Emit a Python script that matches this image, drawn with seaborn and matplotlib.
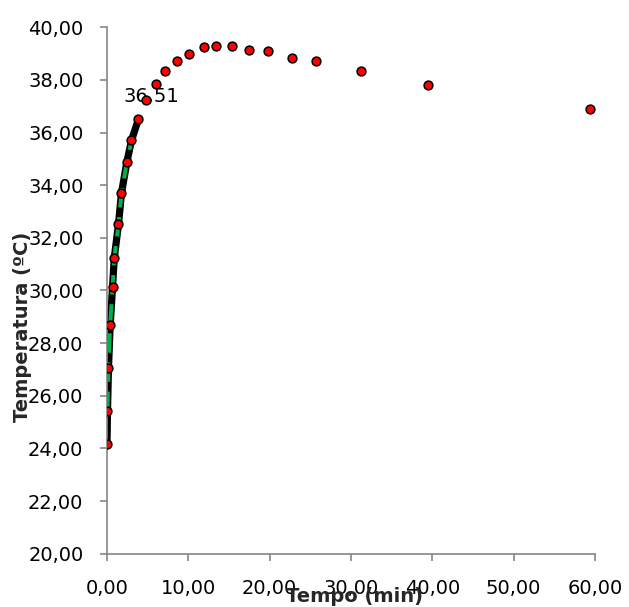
import matplotlib
matplotlib.use("Agg")
import matplotlib.pyplot as plt
from matplotlib.ticker import FuncFormatter
import seaborn as sns
import pandas as pd

# Medições de temperatura ao longo do tempo
tempo = [0.00, 0.06, 0.18, 0.39, 0.68, 0.89, 1.41, 1.78, 2.45, 3.01, 3.87,
         4.82, 6.05, 7.19, 8.55, 10.14, 11.95, 13.43, 15.43, 17.45, 19.78,
         22.73, 25.69, 31.26, 39.41, 59.33]
temperatura = [24.16, 25.42, 27.06, 28.68, 30.12, 31.23, 32.51, 33.70, 34.89,
               35.70, 36.51, 37.22, 37.85, 38.33, 38.71, 38.98, 39.24, 39.29,
               39.29, 39.15, 39.09, 38.85, 38.71, 38.33, 37.79, 36.89]

# Trecho de aquecimento (curva preta) e trecho ajustado (tracejado verde)
n_aquecimento = 11
ajuste_inicio, ajuste_fim = 1, 10

x_ticks = [0, 10, 20, 30, 40, 50, 60]
y_ticks = [20, 22, 24, 26, 28, 30, 32, 34, 36, 38, 40]

df = pd.DataFrame({"tempo": tempo, "temperatura": temperatura})
aquec = df.iloc[:n_aquecimento]
ajuste = df.iloc[ajuste_inicio:ajuste_fim]

sns.set_style("white")
plt.rcParams["font.family"] = ["DejaVu Sans"]
fs = 14

fig = plt.figure(figsize=(6.29, 6.07), dpi=100)
ax = fig.add_axes([107 / 629, 1 - 553.7 / 607, (595 - 107) / 629, (553.7 - 27.3) / 607])

sns.lineplot(data=aquec, x="tempo", y="temperatura", sort=False, estimator=None,
             color="black", linewidth=5.2, solid_capstyle="round",
             solid_joinstyle="round", ax=ax, zorder=2)
sns.lineplot(data=ajuste, x="tempo", y="temperatura", sort=False, estimator=None,
             color="#00B050", linewidth=2.8, dashes=False, ax=ax, zorder=3)
ax.lines[-1].set_linestyle((0, (5, 2.5)))
sns.scatterplot(data=df, x="tempo", y="temperatura", color="#FF0000",
                edgecolor="black", linewidth=1.1, s=40, ax=ax, zorder=4)

fmt = lambda v: f"{v:.2f}".replace(".", ",")
ultimo = aquec.iloc[-1]
ax.annotate(fmt(ultimo["temperatura"]), (ultimo["tempo"], ultimo["temperatura"]),
            xytext=(9.5, 16), textcoords="offset points", ha="center", va="center",
            fontsize=fs, color="black", zorder=1)

ax.set_xlim(0, 60)
ax.set_ylim(20, 40)
ax.set_xticks(x_ticks)
ax.set_yticks(y_ticks)
ax.xaxis.set_major_formatter(FuncFormatter(lambda v, p: fmt(v)))
ax.yaxis.set_major_formatter(FuncFormatter(lambda v, p: fmt(v)))

grey = "#868686"
for side in ["top", "right"]:
    ax.spines[side].set_visible(False)
for side in ["left", "bottom"]:
    ax.spines[side].set_color(grey)
    ax.spines[side].set_linewidth(1.2)
ax.tick_params(axis="both", direction="out", length=5, width=1.2, color=grey,
               labelsize=fs, labelcolor="black")
ax.tick_params(axis="y", pad=12, left=True)
ax.tick_params(axis="x", pad=13, bottom=True)

ax.set_xlabel("Tempo (min)", fontsize=fs, fontweight="bold", va="center")
ax.set_ylabel("Temperatura (ºC)", fontsize=fs, fontweight="bold", va="center")
ax.xaxis.set_label_coords((354 - 107) / 488, (553.7 - 597) / 526.4)
ax.yaxis.set_label_coords((23 - 107) / 488, (553.7 - 327) / 526.4)

fig.savefig("out.png", dpi=100)
